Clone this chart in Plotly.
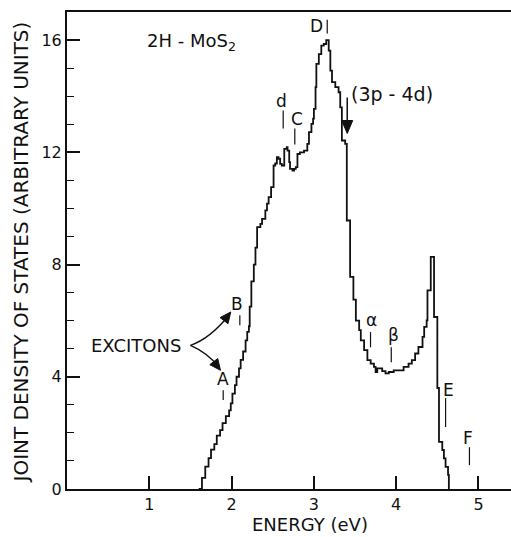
import math
import plotly.graph_objects as go

# ---- data ----
energy = [1.60, 1.64, 1.68, 1.72, 1.75, 1.79, 1.82, 1.86, 1.89, 1.93, 1.97, 1.99,
          2.01, 2.04, 2.06, 2.09, 2.11, 2.14, 2.17, 2.19, 2.21, 2.22, 2.24, 2.27,
          2.29, 2.31, 2.35, 2.37, 2.41, 2.43, 2.45, 2.48, 2.51, 2.53, 2.55, 2.57,
          2.59, 2.61, 2.64, 2.67, 2.68, 2.70, 2.71, 2.74, 2.76, 2.78, 2.80, 2.83,
          2.88, 2.92, 2.94, 2.97, 2.99, 3.00, 3.02, 3.03, 3.06, 3.09, 3.12, 3.15,
          3.18, 3.20, 3.22, 3.26, 3.30, 3.32, 3.34, 3.38, 3.40, 3.44, 3.48, 3.51,
          3.55, 3.57, 3.61, 3.65, 3.69, 3.73, 3.75, 3.77, 3.83, 3.87, 3.91, 3.97,
          4.03, 4.09, 4.15, 4.19, 4.23, 4.27, 4.32, 4.34, 4.37, 4.38, 4.42, 4.46,
          4.50, 4.52, 4.56, 4.58, 4.60, 4.63, 4.64]
jdos = [0.0, 0.4, 0.8, 1.1, 1.4, 1.6, 1.9, 2.1, 2.35, 2.6, 2.8, 3.05,
        3.4, 3.7, 4.0, 4.3, 4.6, 4.9, 5.3, 5.6, 5.8, 6.5, 7.4, 8.0,
        8.6, 9.33, 9.45, 9.63, 9.93, 10.17, 10.4, 10.76, 11.53, 11.6, 11.83, 11.77,
        11.59, 11.53, 12.12, 12.18, 12.06, 11.65, 11.41, 11.35, 11.41, 11.47, 11.94, 12.0,
        12.06, 12.3, 12.72, 13.01, 13.2, 13.55, 14.32, 15.15, 15.5, 15.8, 15.86, 16.0,
        15.62, 14.91, 14.5, 14.32, 14.14, 13.6, 12.42, 12.3, 9.57, 7.56, 6.75, 6.0,
        5.66, 5.30, 4.95, 4.59, 4.47, 4.35, 4.17, 4.30, 4.20, 4.12, 4.17, 4.23,
        4.23, 4.35, 4.47, 4.59, 4.83, 5.06, 5.42, 5.78, 6.01, 7.08, 8.27, 6.13,
        3.6, 1.68, 1.39, 1.09, 0.79, 0.5, 0.0]

x_ticks = [1, 2, 3, 4, 5]
y_ticks = [0, 4, 8, 12, 16]

# feature labels: name, tick energy, tick bottom, tick top, label x, label y
feat_names = ["D", "d", "C", "α", "β", "E", "F", "B", "A"]
feat_e = [3.162, 2.627, 2.768, 3.688, 3.94, 4.60, 4.89, 2.10, 1.898]
feat_lo = [16.23, 12.85, 12.28, 5.05, 4.52, 2.21, 0.85, 5.84, 3.17]
feat_hi = [16.72, 13.49, 12.85, 5.59, 5.05, 3.24, 1.49, 6.19, 3.52]
feat_lx = [3.03, 2.61, 2.79, 3.70, 3.967, 4.63, 4.87, 2.07, 1.895]
feat_ly = [16.5, 13.84, 13.2, 6.01, 5.48, 3.52, 1.81, 6.58, 3.91]

FONT = "DejaVu Sans"
INK = "#111111"

X_MAX, Y_MAX = 5.395, 17
L, R, T, B = 67, 0, 12, 48
W, H = 511, 537
PX_X = (W - L - R) / X_MAX
PX_Y = (H - T - B) / Y_MAX


def head(xt, yt, ux, uy, length=11, half=5):
    """filled arrowhead triangle (screen direction ux,uy; y down)"""
    n = math.hypot(ux, uy)
    ux, uy = ux / n, uy / n
    bx, by = -length * ux, -length * uy
    px, py = -uy * half, ux * half
    pts = [(0, 0), (bx + px, by + py), (bx - px, by - py)]
    d = "M " + " L ".join(f"{xt + sx / PX_X:.4f},{yt - sy / PX_Y:.4f}" for sx, sy in pts) + " Z"
    return dict(type="path", xref="x", yref="y", path=d, fillcolor=INK,
                line=dict(color=INK, width=1))


fig = go.Figure()
fig.add_trace(go.Scatter(x=energy, y=jdos, mode="lines",
                         line=dict(color=INK, width=1.8, shape="hv"),
                         showlegend=False, hoverinfo="skip"))

shapes = []
annotations = []
for n, e, lo, hi, lx, ly in zip(feat_names, feat_e, feat_lo, feat_hi, feat_lx, feat_ly):
    shapes.append(dict(type="line", xref="x", yref="y", x0=e, x1=e, y0=lo, y1=hi,
                       line=dict(color=INK, width=1.2)))
    annotations.append(dict(x=lx, y=ly, xref="x", yref="y", text=n, showarrow=False,
                            xanchor="center", yanchor="middle",
                            font=dict(family=FONT, size=17, color=INK)))

# curved exciton arrows
shapes.append(dict(type="path", xref="x", yref="y",
                   path="M 1.50,5.12 Q 1.735,5.35 1.97,6.2",
                   line=dict(color=INK, width=1.4)))
shapes.append(dict(type="path", xref="x", yref="y",
                   path="M 1.50,5.12 Q 1.713,4.85 1.85,4.33",
                   line=dict(color=INK, width=1.4)))
shapes.append(head(1.99, 6.31, 0.61, -0.79))
shapes.append(head(1.865, 4.23, 0.61, 0.79))
annotations.append(dict(x=0.833, y=5.12, xref="x", yref="y", text="EXCITONS",
                        showarrow=False, xanchor="center", yanchor="middle",
                        font=dict(family=FONT, size=18, color=INK)))

# (3p-4d) arrow
shapes.append(dict(type="line", xref="x", yref="y", x0=3.405, x1=3.405, y0=13.95, y1=13.0,
                   line=dict(color=INK, width=1.5)))
shapes.append(head(3.405, 12.67, 0, 1, length=13, half=5.5))
annotations.append(dict(x=3.95, y=14.09, xref="x", yref="y", text="(3p - 4d)",
                        showarrow=False, xanchor="center", yanchor="middle",
                        font=dict(family=FONT, size=19, color=INK)))

annotations.append(dict(x=1.507, y=15.94, xref="x", yref="y",
                        text="2H - MoS<sub>2</sub>", xanchor="center", yanchor="middle",
                        showarrow=False, font=dict(family=FONT, size=18, color=INK)))

# axis titles
annotations.append(dict(x=(20 - L) / (W - L - R), y=(H - B - 252.5) / (H - T - B),
                        xref="paper", yref="paper", xanchor="center", yanchor="middle",
                        text="JOINT DENSITY OF STATES (ARBITRARY UNITS)", textangle=-90,
                        showarrow=False, font=dict(family=FONT, size=20, color=INK)))
annotations.append(dict(x=(309.5 - L) / (W - L - R), y=(H - B - 524) / (H - T - B),
                        xref="paper", yref="paper", xanchor="center", yanchor="middle",
                        text="ENERGY (eV)", showarrow=False,
                        font=dict(family=FONT, size=18, color=INK)))

fig.update_layout(
    width=W, height=H,
    margin=dict(l=L, r=R, t=T, b=B, autoexpand=False),
    paper_bgcolor="white", plot_bgcolor="white",
    shapes=shapes, annotations=annotations,
    font=dict(family=FONT, color=INK),
    xaxis=dict(range=[0, X_MAX], tickvals=x_ticks, ticktext=[str(v) for v in x_ticks],
               ticks="inside", ticklen=13, tickwidth=1.5, tickcolor=INK,
               showline=True, linewidth=2, linecolor=INK, mirror=True,
               showgrid=False, zeroline=False, automargin=False,
               tickfont=dict(family=FONT, size=16, color=INK)),
    yaxis=dict(range=[0, Y_MAX], tickvals=y_ticks, ticktext=[str(v) for v in y_ticks],
               ticks="inside", ticklen=13, tickwidth=1.5, tickcolor=INK,
               minor=dict(ticks="inside", ticklen=7, dtick=1, tickwidth=1.2, tickcolor=INK,
                          showgrid=False),
               showline=True, linewidth=2, linecolor=INK,
               showgrid=False, zeroline=False, automargin=False,
               tickfont=dict(family=FONT, size=16, color=INK)),
)

fig.write_html("out.html", config={"displayModeBar": False},
               post_script="document.body.style.margin='0px';")
